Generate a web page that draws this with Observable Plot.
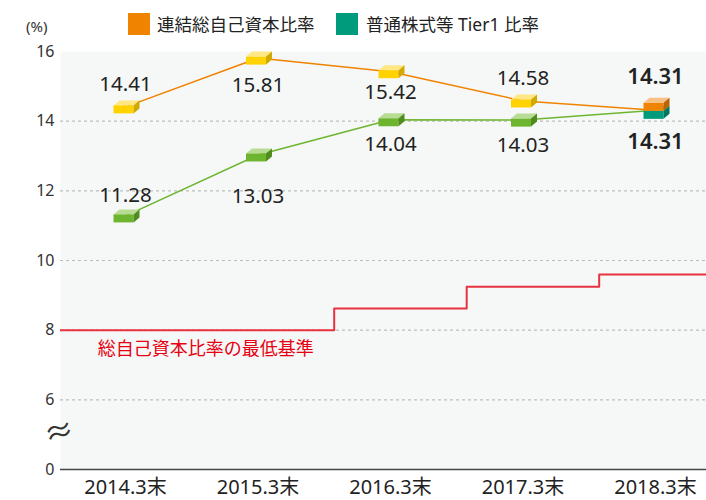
<!DOCTYPE html>
<html>
<head>
<meta charset="utf-8">
<script src="https://cdn.jsdelivr.net/npm/d3@7"></script>
<script src="https://cdn.jsdelivr.net/npm/@observablehq/plot@0.6"></script>
<style>
  html, body { margin: 0; padding: 0; background: #fff; }
  body { width: 706px; height: 500px; overflow: hidden; font-family: "Noto Sans", "Noto Sans CJK JP", sans-serif; color: #222; }
  #legend { position: relative; height: 40px; }
  .sw { position: absolute; top: 13px; width: 22px; height: 22px; }
  .lt { position: absolute; top: 12px; font-size: 17.5px; line-height: 24px; color: #222; white-space: nowrap; }
  #unit { position: absolute; left: 26px; top: 16px; font-size: 15px; line-height: 20px; color: #333; }
</style>
</head>
<body>
<div id="legend">
  <div class="sw" style="left:128px;background:#f08300"></div>
  <div class="lt" style="left:157px">連結総自己資本比率</div>
  <div class="sw" style="left:336px;background:#009b7d"></div>
  <div class="lt" style="left:366px">普通株式等 Tier1 比率</div>
  <div id="unit">(%)</div>
</div>
<div id="chart"></div>
<script>
const years = ["2014.3末", "2015.3末", "2016.3末", "2017.3末", "2018.3末"];
const totalRatio = [14.41, 15.81, 15.42, 14.58, 14.31];
const cet1Ratio = [11.28, 13.03, 14.04, 14.03, 14.31];
// minimum total capital ratio (step line), x in category units
const minStepX = [-0.5, 1.575, 2.575, 3.575, 4.6];
const minStepY = [8, 8.625, 9.25, 9.6, 9.6];
const minLabel = "総自己資本比率の最低基準";
// broken axis: the value 4 on the scale is shown as "0"
const yTicks = [4, 6, 8, 10, 12, 14, 16];
const yTickLabels = ["0", "6", "8", "10", "12", "14", "16"];

const totalPts = years.map((y, i) => ({i, v: totalRatio[i]}));
const cet1Pts = years.map((y, i) => ({i, v: cet1Ratio[i]}));
const minPts = minStepX.map((x, k) => ({x, y: minStepY[k]}));

function poly(points) {
  return {
    draw(ctx) {
      ctx.moveTo(points[0][0], points[0][1]);
      for (let k = 1; k < points.length; k++) ctx.lineTo(points[k][0], points[k][1]);
      ctx.closePath();
    }
  };
}
const frontSym = poly([[-12, -1.5], [8, -1.5], [8, 6.5], [-12, 6.5]]);
const topSym = poly([[-12, -1.5], [-6, -6.5], [14, -6.5], [8, -1.5]]);
const sideSym = poly([[8, -1.5], [14, -6.5], [14, 1.5], [8, 6.5]]);

function cube(data, c, dy) {
  const o = {x: "i", y: "v", stroke: "none", dy};
  return [
    Plot.dot(data, {...o, symbol: topSym, fill: c.top}),
    Plot.dot(data, {...o, symbol: frontSym, fill: c.front}),
    Plot.dot(data, {...o, symbol: sideSym, fill: c.side})
  ];
}
const yellow = {top: "#ffe784", front: "#ffd200", side: "#d2a900"};
const green = {top: "#b8dc94", front: "#6db52f", side: "#4e8c1d"};
const orange = {top: "#f8c083", front: "#f08300", side: "#b86200"};
const teal = {top: "#5fc2ad", front: "#009b7d", side: "#007560"};

const totalDy = [-22, 27, 21, -23, -33];
const cet1Dy = [-20, 41, 25, 25, 32];
function labels(pts, dys) {
  return pts.map((p, k) => Plot.text([p], {
    x: "i", y: "v", text: d => d.v.toFixed(2), dy: dys[k],
    fontSize: k === 4 ? 22 : 20.5, fontWeight: k === 4 ? 600 : "normal",
    fill: "#222"
  }));
}

const chart = Plot.plot({
  width: 706,
  height: 460,
  marginLeft: 60,
  marginRight: 0,
  marginTop: 11,
  marginBottom: 31,
  style: {fontFamily: "'Noto Sans', 'Noto Sans CJK JP', sans-serif", background: "#fff", overflow: "visible"},
  x: {type: "linear", domain: [-0.5, 4.5], range: [58.75, 721.25]},
  y: {domain: [4, 16]},
  marks: [
    Plot.frame({fill: "#f6f8f7", stroke: "none"}),
    Plot.ruleY([6, 8, 10, 12, 14], {stroke: "#bdbdbd", strokeWidth: 1.2, strokeDasharray: "3,3"}),
    Plot.ruleY([4], {stroke: "#444", strokeWidth: 1.5}),
    Plot.axisY(yTicks, {tickFormat: d => yTickLabels[yTicks.indexOf(d)], tickSize: 0, tickPadding: 6, fontSize: 16, fill: "#333", label: null}),
    Plot.axisX([0, 1, 2, 3, 4], {tickFormat: i => years[i], tickSize: 0, tickPadding: 10, fontSize: 20, fill: "#222", label: null}),
    Plot.text(["≈"], {x: -0.5, y: 5.05, text: d => d, fontSize: 30, fill: "#333", rotate: -15}),
    Plot.line(minPts, {x: "x", y: "y", curve: "step-after", stroke: "#e8323f", strokeWidth: 2, clip: true}),
    Plot.text([minLabel], {x: -0.21, y: 7.44, text: d => d, textAnchor: "start", fontSize: 18, fill: "#e60012"}),
    Plot.line(totalPts, {x: "i", y: "v", stroke: "#f08300", strokeWidth: 1.5}),
    Plot.line(cet1Pts, {x: "i", y: "v", stroke: "#6db52f", strokeWidth: 1.5}),
    ...cube(totalPts.slice(0, 4), yellow, 0),
    ...cube(cet1Pts.slice(0, 4), green, 0),
    ...cube(cet1Pts.slice(4), teal, 2),
    ...cube(totalPts.slice(4), orange, -6),
    ...labels(totalPts, totalDy),
    ...labels(cet1Pts, cet1Dy)
  ]
});
document.getElementById("chart").appendChild(chart);
</script>
</body>
</html>
